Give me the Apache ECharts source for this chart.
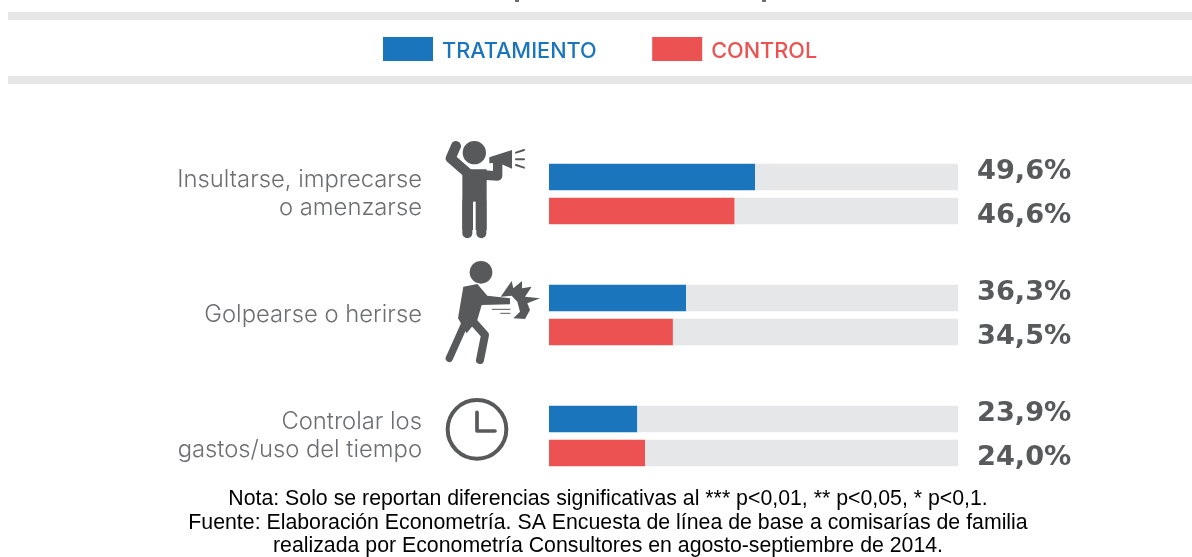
<!DOCTYPE html>
<html><head><meta charset="utf-8">
<style>html,body{margin:0;padding:0;background:#fff}#c{width:1192px;height:557px}</style>
<script src="https://cdn.jsdelivr.net/npm/echarts@6/dist/echarts.min.js"></script>
</head><body><div id="c"></div>
<script>
const categories = ['Insultarse, imprecarse\no amenzarse', 'Golpearse o herirse', 'Controlar los\ngastos/uso del tiempo'];
// Printed values, as labelled in the reference.
const treatmentLabels = ['49,6%', '36,3%', '23,9%'];
const controlLabels = ['46,6%', '34,5%', '24,0%'];
// Bar lengths (% of the grey track); the source graphic is not drawn to scale with its labels.
const treatmentLengths = [50.4, 33.5, 21.6];
const controlLengths = [45.4, 30.3, 23.5];
const notes = 'Nota: Solo se reportan diferencias significativas al *** p<0,01, ** p<0,05, * p<0,1.\nFuente: Elaboración Econometría. SA Encuesta de línea de base a comisarías de familia\nrealizada por Econometría Consultores en agosto-septiembre de 2014.';

const BLUE='#1b75bc', RED='#ec5252', TRACK='#e6e7e8', ICON='#58595b', FONT='Inter';
const chart = echarts.init(document.getElementById('c'), null, {renderer:'canvas'});

function barPair(name, stack, lengths, labels, color, dy){
  return [
    {type:'bar', name, stack, data:lengths, barWidth:26.6, barGap:'28%', itemStyle:{color}, silent:true},
    {type:'bar', name:name+' resto', stack, data:lengths.map(v=>100-v), barWidth:26.6, itemStyle:{color:TRACK}, silent:true,
     label:{show:true, position:'right', distance:19, offset:[0,dy], formatter:p=>labels[p.dataIndex],
            fontFamily:'DejaVu Sans', fontWeight:'bold', fontSize:27.2, color:ICON}}
  ];
}
const stroke=(shape,w)=>({type:'polyline',shape:{points:shape},style:{stroke:ICON,lineWidth:w,lineCap:'round',lineJoin:'round',fill:null},silent:true});
const band=y=>({type:'rect',shape:{x:8,y,width:1184,height:8},style:{fill:TRACK},silent:true});
// Descender tips of the cropped-off title at the top edge of the reference.
const tip=x=>({type:'rect',shape:{x,y:0,width:4,height:2},style:{fill:'#6d6e71'},silent:true});

const icon1={type:'group',x:430,y:130,scaleX:1/3,scaleY:1/3,silent:true,children:[
  {type:'circle',shape:{cx:133,cy:68,r:35},style:{fill:ICON}},
  stroke([[112,128],[62,85],[78,48]],30),
  {type:'polygon',shape:{points:[[97,118],[170,118],[170,300],[97,300]]},style:{fill:ICON}},
  stroke([[112,310],[112,215]],30), stroke([[154,310],[154,215]],30),
  {type:'rect',shape:{x:129,y:215,width:8,height:112},style:{fill:'#fff'}},
  stroke([[160,135],[203,138],[203,100]],28),
  {type:'polygon',shape:{points:[[178,82],[246,60],[246,116],[205,98],[178,100]]},style:{fill:ICON}},
  stroke([[258,68],[282,60]],6), stroke([[258,88],[282,88]],6), stroke([[258,105],[282,113]],6)
]};
const icon2={type:'group',x:430,y:255,scaleX:1/3,scaleY:1/3,silent:true,children:[
  {type:'circle',shape:{cx:153,cy:52,r:34},style:{fill:ICON}},
  {type:'polygon',shape:{points:[[100,95],[142,87],[172,122],[240,130],[240,148],[155,150],[142,195],[110,235],[84,190]]},style:{fill:ICON}},
  stroke([[105,205],[58,310]],22),
  stroke([[125,195],[165,240],[150,315]],24),
  {type:'polygon',shape:{points:[[212,125],[245,78],[250,100],[276,78],[276,100],[305,95],[285,125],[330,130],[292,145],[300,165],[285,192],[250,190],[270,170],[262,140],[245,122]]},style:{fill:ICON}},
  stroke([[187,163],[240,163]],3), stroke([[212,175],[240,175]],3)
]};
const icon3={type:'group',x:430,y:385,scaleX:1/3,scaleY:1/3,silent:true,children:[
  {type:'circle',shape:{cx:141,cy:133,r:88},style:{fill:null,stroke:ICON,lineWidth:12}},
  stroke([[141,82],[141,138],[195,138]],11)
]};

chart.setOption({
  animation:false,
  backgroundColor:'#fff',
  title:{text:notes,left:608,top:487.5,padding:0,textAlign:'center',textStyle:{fontFamily:'Liberation Sans',fontSize:21.3,fontWeight:'normal',color:'#000',lineHeight:23.5}},
  legend:{left:383,top:37,padding:0,itemWidth:50,itemHeight:24,itemGap:55.5,icon:'rect',selectedMode:false,
    formatter:'{n|{name}}',
    textStyle:{fontFamily:FONT,fontSize:21.7,fontWeight:500,padding:[0,0,0,4],
      rich:{n:{fontFamily:FONT,fontSize:21.7,fontWeight:500,padding:[5,0,0,0]}}},
    data:[{name:'TRATAMIENTO',textStyle:{color:BLUE}},{name:'CONTROL',textStyle:{color:RED}}]},
  grid:{left:549,top:133.5,width:409,height:363},
  xAxis:{type:'value',min:0,max:100,show:false},
  yAxis:{type:'category',inverse:true,data:categories,axisLine:{show:false},axisTick:{show:false},
    axisLabel:{margin:127,align:'right',fontFamily:FONT,fontWeight:300,fontSize:23.8,lineHeight:27.5,padding:[3,0,0,0],color:'#6d6e71'}},
  series:[...barPair('TRATAMIENTO','t',treatmentLengths,treatmentLabels,BLUE,-5),
          ...barPair('CONTROL','c',controlLengths,controlLabels,RED,5)],
  graphic:[band(12),band(76),tip(515),tip(762),icon1,icon2,icon3]
});
</script></body></html>
